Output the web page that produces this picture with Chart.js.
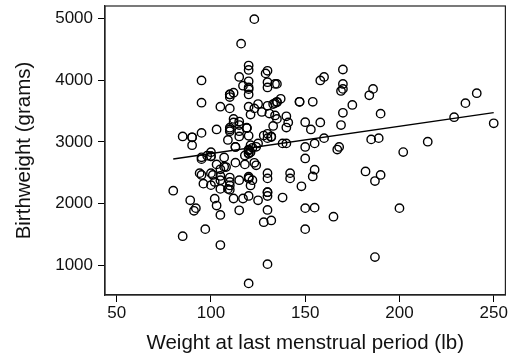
<!DOCTYPE html>
<html>
<head>
<meta charset="utf-8">
<script src="https://cdn.jsdelivr.net/npm/chart.js@4"></script>
<style>
  html, body { margin: 0; padding: 0; background: #fff; }
</style>
</head>
<body>
<canvas id="bwt-chart" width="511" height="356"></canvas>
<script>
// mother's weight at last menstrual period (lb)
const lwt = [
  120, 130, 187, 105, 85, 150, 97, 128, 132, 165,
  105, 91, 115, 130, 92, 150, 200, 155, 103, 125,
  89, 102, 112, 117, 138, 130, 120, 130, 130, 80,
  110, 105, 109, 148, 110, 121, 100, 96, 102, 110,
  187, 122, 105, 115, 120, 142, 130, 120, 110, 120,
  154, 105, 190, 101, 95, 100, 94, 142, 130,
  182, 155, 105, 108, 107, 124, 118, 103, 123, 113,
  95, 150, 95, 107, 100, 100, 98, 118, 120, 120,
  121, 100, 202, 120, 120, 167, 122, 150, 168, 113,
  113, 90, 121, 155, 125, 140, 138, 124, 215, 109,
  185, 189, 130, 160, 90, 90, 132, 132, 115, 85,
  120, 128, 130, 95, 115, 110, 110, 153, 103, 119,
  119, 119, 110, 140, 133, 169, 115, 250, 141, 158,
  112, 150, 115, 112, 135, 229, 140, 134, 121, 190,
  131, 170, 110, 127, 123, 120, 105, 130, 175, 125,
  133, 134, 235, 95, 135, 135, 154, 147, 147, 137,
  110, 184, 110, 110, 120, 241, 112, 169, 120, 170,
  186, 120, 130, 117, 170, 134, 135, 130, 120, 95,
  158, 160, 115, 129, 130, 120, 170, 120, 116, 123
];

// birthweight (grams)
const bwt = [
  709, 1021, 1135, 1330, 1474, 1588, 1588, 1701, 1729, 1790,
  1818, 1885, 1893, 1899, 1928, 1928, 1928, 1936, 1970, 2055,
  2055, 2082, 2084, 2084, 2100, 2125, 2126, 2187, 2187, 2211,
  2225, 2240, 2240, 2282, 2296, 2296, 2301, 2325, 2353, 2353,
  2367, 2381, 2381, 2381, 2410, 2410, 2410, 2414, 2424, 2438,
  2442, 2450, 2466, 2466, 2466, 2495, 2495, 2495, 2495,
  2523, 2551, 2557, 2594, 2600, 2622, 2637, 2637, 2663, 2665,
  2722, 2733, 2751, 2750, 2769, 2769, 2778, 2782, 2807, 2821,
  2835, 2835, 2836, 2863, 2877, 2877, 2906, 2920, 2920, 2920,
  2920, 2948, 2948, 2977, 2977, 2977, 2977, 2922, 3005, 3033,
  3042, 3062, 3062, 3062, 3076, 3076, 3080, 3090, 3090, 3090,
  3100, 3104, 3132, 3147, 3175, 3175, 3203, 3203, 3203, 3225,
  3225, 3232, 3232, 3234, 3260, 3274, 3274, 3303, 3317, 3317,
  3317, 3321, 3331, 3374, 3374, 3402, 3416, 3430, 3444, 3459,
  3460, 3473, 3544, 3487, 3544, 3572, 3572, 3586, 3600, 3614,
  3614, 3629, 3629, 3637, 3643, 3651, 3651, 3651, 3651, 3699,
  3728, 3756, 3770, 3770, 3770, 3790, 3799, 3827, 3856, 3860,
  3860, 3884, 3884, 3912, 3940, 3941, 3941, 3969, 3983, 3997,
  3997, 4054, 4054, 4111, 4153, 4167, 4174, 4238, 4593, 4990
];

const xTicks = [50, 100, 150, 200, 250];
const yTicks = [1000, 2000, 3000, 4000, 5000];

// least squares fit of bwt on lwt, drawn over the observed lwt range
const n = lwt.length;
const mx = lwt.reduce((a, b) => a + b, 0) / n;
const my = bwt.reduce((a, b) => a + b, 0) / n;
let sxy = 0, sxx = 0;
for (let i = 0; i < n; i++) {
  sxy += (lwt[i] - mx) * (bwt[i] - my);
  sxx += (lwt[i] - mx) * (lwt[i] - mx);
}
const slope = sxy / sxx;
const intercept = my - slope * mx;
const xMin = Math.min(...lwt), xMax = Math.max(...lwt);
const fitLine = [
  { x: xMin, y: intercept + slope * xMin },
  { x: xMax, y: intercept + slope * xMax }
];

const points = lwt.map((w, i) => ({ x: w, y: bwt[i] }));

// box round the plot area
const frame = {
  id: 'frame',
  afterDraw(chart) {
    const { ctx, chartArea: a } = chart;
    ctx.save();
    ctx.strokeStyle = '#222';
    ctx.lineWidth = 1.2;
    ctx.strokeRect(a.left, a.top, a.right - a.left, a.bottom - a.top);
    ctx.restore();
  }
};

const FONT = "'Liberation Sans', Arial, Helvetica, sans-serif";

new Chart(document.getElementById('bwt-chart').getContext('2d'), {
  type: 'scatter',
  data: {
    datasets: [
      {
        label: 'Birthweight',
        data: points,
        pointStyle: 'circle',
        pointRadius: 4.2,
        pointBorderWidth: 1.4,
        pointBorderColor: '#000',
        pointBackgroundColor: 'rgba(0,0,0,0)'
      },
      {
        type: 'line',
        label: 'Fit',
        data: fitLine,
        borderColor: '#000',
        borderWidth: 1.3,
        pointRadius: 0,
        fill: false
      }
    ]
  },
  options: {
    responsive: false,
    animation: false,
    layout: { padding: { top: 6, right: 5, left: 0, bottom: 0 } },
    plugins: {
      legend: { display: false },
      tooltip: { enabled: false }
    },
    scales: {
      x: {
        type: 'linear',
        min: 43.8,
        max: 256.2,
        afterBuildTicks: s => { s.ticks = xTicks.map(v => ({ value: v })); },
        afterFit: s => { s.height = 61; s.paddingLeft = 0; s.paddingRight = 0; },
        grid: { drawOnChartArea: false, tickLength: 7, tickColor: '#000', color: '#000' },
        border: { color: '#222', width: 1.2 },
        ticks: { color: '#111', font: { family: FONT, size: 17 }, padding: 1, maxRotation: 0, callback: v => String(v) },
        title: { display: true, text: 'Weight at last menstrual period (lb)', color: '#111', font: { family: FONT, size: 20.5 }, padding: { top: 0, bottom: 0 } }
      },
      y: {
        type: 'linear',
        min: 521,
        max: 5203,
        afterBuildTicks: s => { s.ticks = yTicks.map(v => ({ value: v })); },
        afterFit: s => { s.width = 105; s.paddingTop = 0; s.paddingBottom = 0; },
        grid: { drawOnChartArea: false, tickLength: 7, tickColor: '#000', color: '#000' },
        border: { color: '#222', width: 1.2 },
        ticks: { color: '#111', font: { family: FONT, size: 17 }, padding: 5, callback: v => String(v) },
        title: { display: true, text: 'Birthweight (grams)', color: '#111', font: { family: FONT, size: 20.5 }, padding: { top: 12, bottom: 0 } }
      }
    }
  },
  plugins: [frame]
});
</script>
</body>
</html>
